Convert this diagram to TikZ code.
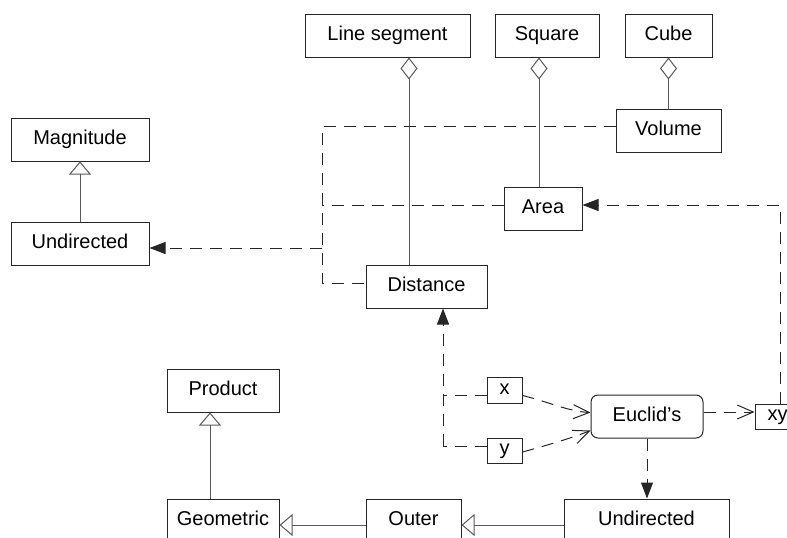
\documentclass[tikz,border=0pt]{standalone}
\usepackage{fontspec}
\setmainfont{Liberation Sans}
\usetikzlibrary{arrows.meta}
\begin{document}
\begin{tikzpicture}[x=1pt,y=-1pt,
  box/.style={draw=black!85, line width=1pt, inner sep=0pt, minimum height=43pt,
    text height=14pt, text depth=4pt, font=\fontsize{20}{24}\selectfont},
  sbox/.style={box, minimum height=25.5pt, minimum width=35pt, text height=11pt, text depth=4pt},
  solidl/.style={draw=black!65, line width=1pt},
  agg/.style={solidl, -{Diamond[open, length=22pt, width=17pt, line width=1pt]}},
  gen/.style={solidl, -{Triangle[open, length=13pt, width=22pt, line width=1pt]}},
  dep/.style={draw=black!85, line width=1pt, dash pattern=on 12pt off 8pt},
  deparr/.style={dep, -{Triangle[length=16pt, width=12pt]}},
  usearr/.style={dep, -{Straight Barb[length=16pt, width=14pt, line width=1pt]}},
]
\useasboundingbox (0,0) rectangle (787,538);
\clip (0,0) rectangle (787,538);

% nodes
\node[box, minimum width=165pt] (ls) at (387.5,35.5) {Line segment};
\node[box, minimum width=104pt] (sq) at (547,35.5) {Square};
\node[box, minimum width=87pt] (cu) at (668.5,35.5) {Cube};
\node[box, minimum width=105pt] (vol) at (668.5,130.5) {Volume};
\node[box, minimum width=78pt] (area) at (543,208.5) {Area};
\node[box, minimum width=121pt] (dist) at (426.5,286.5) {Distance};
\node[box, minimum width=138pt] (mag) at (80,139.5) {Magnitude};
\node[box, minimum width=138pt] (undl) at (80,243.5) {Undirected};
\node[box, minimum width=112pt] (prod) at (223,390.5) {Product};
\node[box, minimum width=112pt] (geo) at (223,520.5) {Geometric};
\node[box, minimum width=95pt] (outer) at (413.5,520.5) {Outer};
\node[box, minimum width=165pt] (undb) at (646.5,520.5) {Undirected};
\node[sbox] (x) at (504.5,390.5) {x};
\node[sbox] (y) at (504.5,451) {y};
\node[box, rounded corners=7pt, minimum width=112pt] (eu) at (647,416.5) {Euclid’s};
\node[sbox, minimum width=45pt, minimum height=25pt] (xy) at (777.5,416.5) {xy};

% helper coordinates
\coordinate (lsx) at (409,0);
\coordinate (sqx) at (539,0);
\coordinate (gx) at (210,0);
\coordinate (bus) at (322,0);
\coordinate (dx) at (443,0);

% aggregations
\draw[agg] (dist.north -| lsx) -- (ls.south -| lsx);
\draw[agg] (area.north -| sqx) -- (sq.south -| sqx);
\draw[agg] (vol.north) -- (cu.south);

% generalizations
\draw[gen] (undl.north) -- (mag.south);
\draw[gen] (geo.north -| gx) -- (prod.south -| gx);
\draw[gen] ([yshift=-4.5pt]outer.west) -- ([yshift=-4.5pt]geo.east);
\draw[gen] ([yshift=-4.5pt]undb.west) -- ([yshift=-4.5pt]outer.east);

% dependency bus to left Undirected
\draw[dep] ([yshift=4.5pt]vol.west) -- ([yshift=4.5pt]vol.west -| bus)
  -- ([yshift=3.5pt]dist.west -| bus) -- ([yshift=3.5pt]dist.west);
\draw[dep] ([yshift=3.5pt]area.west) -- ([yshift=3.5pt]area.west -| bus);
\draw[deparr] ([yshift=-4.5pt]undl.east -| bus) -- ([yshift=-4.5pt]undl.east);

% xy to Area
\draw[deparr] ([xshift=2.5pt]xy.north) |- ([yshift=3.5pt]area.east);

% x, y to Distance
\draw[deparr] ([yshift=5pt]y.west -| dx) -- (dist.south -| dx);
\draw[dep] ([yshift=5pt]y.west) -- ([yshift=5pt]y.west -| dx);
\draw[dep] ([yshift=-5pt]x.west) -- ([yshift=-5pt]x.west -| dx);

% x, y to Euclid's
\draw[usearr] ([yshift=-5pt]x.east) .. controls +(25,6) and +(-22,-1) .. ([yshift=4pt]eu.west);
\draw[usearr] ([yshift=-1pt]y.east) .. controls +(22,-6) and +(-20,8) .. ([yshift=-14pt]eu.west);

% Euclid's to xy and to bottom Undirected
\draw[usearr] ([yshift=4.5pt]eu.east) -- ([yshift=4.5pt]xy.west);
\draw[deparr] (eu.south) -- (eu.south |- undb.north);
\end{tikzpicture}
\end{document}
